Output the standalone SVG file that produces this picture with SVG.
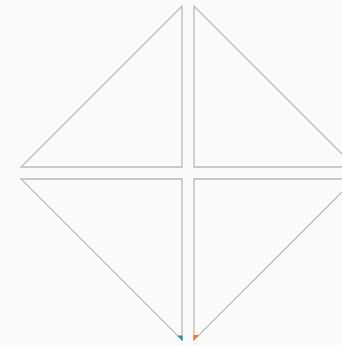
<svg xmlns="http://www.w3.org/2000/svg" width="342" height="345" viewBox="0 0 342 345">
<style>
.tri{fill:#fafafa;stroke:#bdbdbd;stroke-width:1.3}
</style>
<rect width="342" height="345" fill="#fafafa"/>
<g id="nodes">
<g id="tl"><polygon class="tri" points="182,6 182,167 21,167"/></g>
<g id="tr"><polygon class="tri" points="194,6 194,167 355,167"/></g>
<g id="bl"><polygon class="tri" points="21,179 182,179 182,340"/></g>
<g id="br"><polygon class="tri" points="194,179 355,179 194,340"/></g>
</g>
<g id="connectors">
<polygon points="177,335.5 182.6,335.5 182.6,341" fill="#1a9ba0"/>
<polygon points="199,335 193.4,335 193.4,341" fill="#f07c2a"/>
</g>
</svg>
